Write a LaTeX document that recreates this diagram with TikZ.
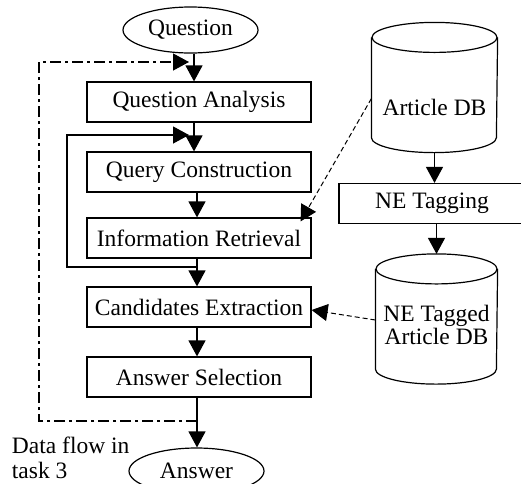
\documentclass[tikz,border=0pt]{standalone}
\usepackage{fontspec}
\setmainfont{Liberation Serif}
\usetikzlibrary{arrows.meta,shapes.geometric}
\newcommand{\boxw}{224pt}
\newcommand{\boxh}{40pt}
\newcommand{\cylry}{15pt}
% outline of a database drum over the named (empty) node #1
\newcommand{\drum}[2]{%
    \draw ([yshift=-\cylry]#1.north) ellipse [x radius=#2, y radius=\cylry];
    \draw ([yshift=-\cylry]#1.north west) -- ([yshift=\cylry]#1.south west)
        arc [start angle=180, end angle=360, x radius=#2, y radius=\cylry]
        -- ([yshift=-\cylry]#1.north east);}

\begin{document}
\begin{tikzpicture}[x=1pt,y=-1pt,line width=1.2pt,
    font=\fontsize{23.5}{27}\selectfont]
    \tikzset{stage/.style={draw, minimum width=\boxw, minimum height=\boxh, inner sep=0pt},
        oval/.style={draw, ellipse, minimum width=135pt, minimum height=46pt, inner sep=0pt},
        db/.style={minimum width=125pt, minimum height=129pt, inner sep=0pt},
        flow/.style={-{Triangle[length=16pt,width=17pt]}},
        ref/.style={flow, line width=1pt, dash pattern=on 5pt off 3pt},
        task/.style={flow, dash pattern=on 11pt off 4pt on 3pt off 4pt}}
    \useasboundingbox (0,0) rectangle (521,483);
    % main pipeline
    \node[oval] (q) at (190.5,30) {Question};
    \node[stage] (qa) at (199,102) {Question Analysis};
    \node[stage] (qc) at (199,172) {Query Construction};
    \node[stage] (ir) at (199,238) {Information Retrieval};
    \node[stage] (ce) at (199,307) {Candidates Extraction};
    \node[stage] (as) at (199,377) {Answer Selection};
    \node[oval] (a) at (196.5,471) {Answer};
    % databases
    \node[db, label={[yshift=-20pt]center:Article DB}] (adb) at (434.5,87.5) {};
    \drum{adb}{62.5pt}
    \node[stage, minimum width=186pt] (ne) at (432,203.5) {NE Tagging};
    \node[db, minimum width=121pt, label={[yshift=-6pt,align=center]center:NE Tagged\\[-4pt]Article DB}] (tdb) at (436.5,319) {};
    \drum{tdb}{60.5pt}
    \node[align=left, anchor=west, font=\fontsize{23.5}{25}\selectfont] (note) at (8,458) {Data flow in\\task 3};
    \coordinate (up) at (194,0);
    \coordinate (dn) at (197,0);
    \coordinate (lb) at (67,267);
    \coordinate (lt) at (67,135);
    \coordinate (ob) at (39,421);
    \coordinate (ot) at (39,62);
    \draw[flow] (q.south -| up) -- (qa.north -| up);
    \draw[flow] (qa.south -| up) -- (qc.north -| up);
    \draw[flow] (qc.south -| dn) -- (ir.north -| dn);
    \draw[flow] (ir.south -| dn) -- (ce.north -| dn);
    \draw[flow] (ce.south -| dn) -- (as.north -| dn);
    \draw[flow] (as.south -| dn) -- (a.north -| dn);
    \draw[flow, shorten >=5pt] (lb -| dn) -- (lb) -- (lt) -- (lt -| up);
    \draw[task, shorten >=5pt] (ob -| dn) -- (ob) -- (ot) -- (ot -| up);
    \draw[flow] (adb.south) -- (adb.south |- ne.north);
    \draw[flow] (tdb.north |- ne.south) -- (tdb.north);
    \draw[ref] ([yshift=-11pt]adb.west) -- ([xshift=-11pt,yshift=-4pt]ir.north east);
    \draw[ref] ([yshift=-1pt]tdb.west) -- ([yshift=-3pt]ce.east);
\end{tikzpicture}
\end{document}
